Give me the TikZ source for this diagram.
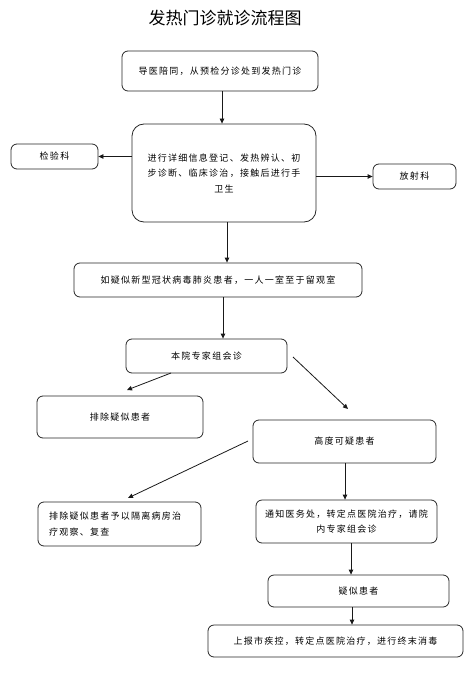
\documentclass[tikz,border=0pt]{standalone}
\usepackage{fontspec}
\usetikzlibrary{arrows.meta}
\newfontfamily\cjk[LetterSpace=14]{Noto Sans CJK SC}
\newfontfamily\cjktitle{Noto Sans CJK SC}
\tikzset{
  box/.style={draw=black!85, line width=0.8pt, rounded corners=6pt, inner sep=0pt,
    align=center, font=\cjk\fontsize{9}{15.5}\selectfont},
  arr/.style={draw=black!90, line width=0.8pt, -{Triangle[length=5pt,width=4.5pt]}},
}
\begin{document}
\begin{tikzpicture}[x=1pt,y=-1pt]
\useasboundingbox (0,0) rectangle (471,676);
\node[font=\cjktitle\fontsize{17}{20}\selectfont] (title) at (225,18) {发热门诊就诊流程图};

\node[box, minimum width=196, minimum height=40] (b1) at (220,71) {导医陪同，从预检分诊处到发热门诊};
\node[box, rounded corners=12pt, minimum width=184, minimum height=98] (b2) at (224,173)
  {进行详细信息登记、发热辨认、初\\步诊断、临床诊治，接触后进行手\\卫生};
\node[box, minimum width=87, minimum height=25] (jy) at (54.5,156.5) {检验科};
\node[box, minimum width=83, minimum height=25] (fs) at (414.5,176.5) {放射科};
\node[box, minimum width=288, minimum height=34] (b3) at (218,280) {如疑似新型冠状病毒肺炎患者，一人一室至于留观室};
\node[box, minimum width=161, minimum height=34] (b4) at (206.5,356) {本院专家组会诊};
\node[box, minimum width=166, minimum height=42] (b5) at (120,417) {排除疑似患者};
\node[box, minimum width=183, minimum height=43] (b6) at (344.5,441.5) {高度可疑患者};
\node[box, align=left, text width=141, inner xsep=11pt, minimum height=44] (b7) at (119.5,524)
  {排除疑似患者予以隔离病房治\\疗观察、复查};
\node[box, minimum width=181, minimum height=43] (b8) at (346.5,521.5)
  {通知医务处，转定点医院治疗，请院\\内专家组会诊};
\node[box, minimum width=181, minimum height=32] (b9) at (358.5,591) {疑似患者};
\node[box, minimum width=255, minimum height=32] (b10) at (335.5,641) {上报市疾控，转定点医院治疗，进行终末消毒};

\coordinate (a1s) at (171,373);
\coordinate (a1e) at (127,390);
\coordinate (a2s) at (293,357);
\coordinate (a2e) at (348,409);
\coordinate (a3s) at (248,441);
\coordinate (a3e) at (128,498);

\draw[arr] (b1.south -| 222,0) -- (b2.north -| 222,0);
\draw[arr] (b2.west |- jy) -- (jy.east);
\draw[arr] (b2.east |- fs) -- (fs.west);
\draw[arr] (b2.south -| 227,0) -- (b3.north -| 227,0);
\draw[arr] (b3.south -| 223,0) -- (b4.north -| 223,0);
\draw[arr] (a1s) -- (a1e);
\draw[arr] (a2s) -- (a2e);
\draw[arr] (a3s) -- (a3e);
\draw[arr] (b6.south -| 345,0) -- (b8.north -| 345,0);
\draw[arr] (b8.south -| 351,0) -- (b9.north -| 351,0);
\draw[arr] (b9.south -| 352,0) -- (b10.north -| 352,0);
\end{tikzpicture}
\end{document}
